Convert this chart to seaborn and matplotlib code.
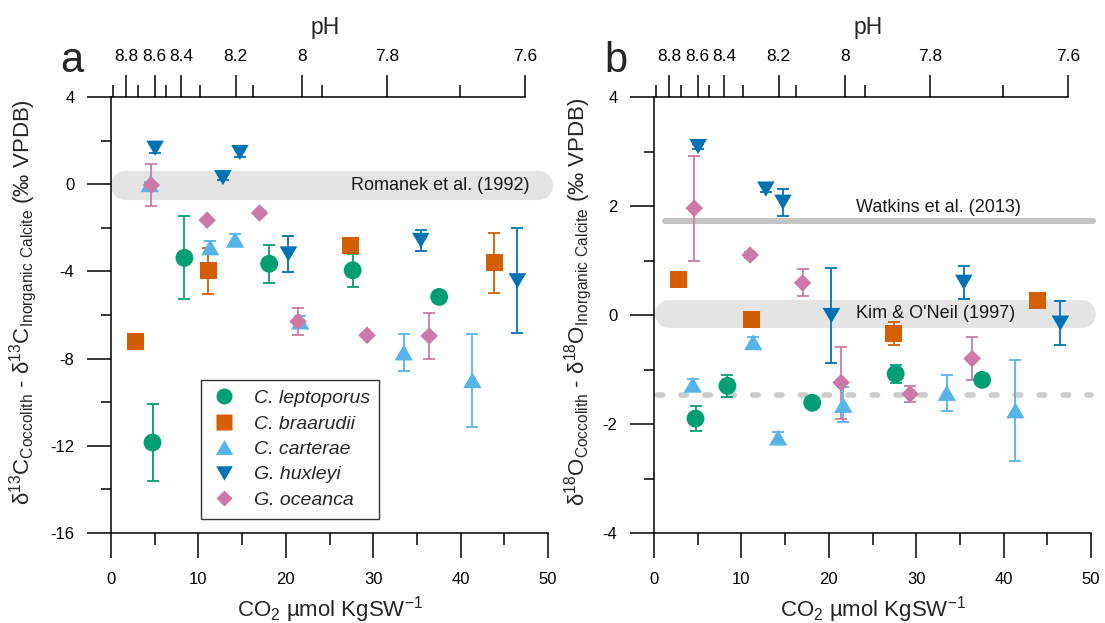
import numpy as np
import pandas as pd
import matplotlib
matplotlib.use("Agg")
import matplotlib.pyplot as plt
from matplotlib.lines import Line2D
from matplotlib.ticker import FixedLocator, NullFormatter
import seaborn as sns

# ---------------------------------------------------------------- data
species = ["C. leptoporus", "C. braarudii", "C. carterae", "G. huxleyi", "G. oceanca"]

# CO2 (umol/kg seawater) of each culture
co2_leptoporus = [4.75, 8.4, 18.1, 27.65, 37.55]
co2_braarudii = [2.8, 11.1, 27.45, 43.85]
co2_carterae = [4.43, 11.35, 14.2, 21.65, 33.5, 41.35]
co2_huxleyi = [5.05, 12.8, 14.75, 20.3, 35.45, 46.5]
co2_oceanca = [4.6, 11.0, 17.0, 21.4, 29.3, 36.4]

# carbon isotope offsets (permil VPDB) and their errors
d13c_leptoporus = [-11.85, -3.38, -3.65, -3.95, -5.17]
d13c_leptoporus_err = [1.75, 1.9, 0.88, 0.77, 0.1]
d13c_braarudii = [-7.2, -3.98, -2.8, -3.6]
d13c_braarudii_err = [0.35, 1.05, 0.2, 1.38]
d13c_carterae = [0.0, -2.9, -2.55, -6.3, -7.72, -8.99]
d13c_carterae_err = [0.1, 0.3, 0.28, 0.25, 0.84, 2.14]
d13c_huxleyi = [1.65, 0.3, 1.45, -3.2, -2.58, -4.43]
d13c_huxleyi_err = [0.2, 0.1, 0.2, 0.84, 0.48, 2.4]
d13c_oceanca = [-0.04, -1.65, -1.32, -6.3, -6.93, -6.96]
d13c_oceanca_err = [0.96, 0.1, 0.1, 0.64, 0.1, 1.07]

# oxygen isotope offsets (permil VPDB) and their errors
d18o_leptoporus = [-1.9, -1.3, -1.61, -1.08, -1.19]
d18o_leptoporus_err = [0.23, 0.2, 0.05, 0.17, 0.05]
d18o_braarudii = [0.65, -0.08, -0.34, 0.27]
d18o_braarudii_err = [0.05, 0.05, 0.21, 0.05]
d18o_carterae = [-1.28, -0.5, -2.25, -1.65, -1.43, -1.75]
d18o_carterae_err = [0.1, 0.1, 0.1, 0.32, 0.33, 0.92]
d18o_huxleyi = [3.09, 2.31, 2.07, -0.01, 0.6, -0.15]
d18o_huxleyi_err = [0.05, 0.05, 0.25, 0.87, 0.3, 0.4]
d18o_oceanca = [1.96, 1.1, 0.59, -1.24, -1.45, -0.8]
d18o_oceanca_err = [0.96, 0.05, 0.25, 0.66, 0.14, 0.4]

# pH scale on the top axis, placed at the equivalent CO2
ph_labels = ["8.8", "8.6", "8.4", "8.2", "8", "7.8", "7.6"]
ph_co2 = [1.75, 5.0, 8.0, 14.25, 21.85, 31.6, 47.35]
ph_minor_co2 = [0.25, 3.1, 6.3, 10.2, 16.25, 24.15, 39.9]

# inorganic calcite references
romanek_d13c = -0.05
kim_oneil_d18o = 0.02
watkins_d18o = 1.72
dashed_d18o = -1.47

# ---------------------------------------------------------------- style
colors = {"C. leptoporus": "#009E73", "C. braarudii": "#D55E00",
          "C. carterae": "#56B4E9", "G. huxleyi": "#0072B2",
          "G. oceanca": "#CC79A7"}
tri_up = [(-1, -0.866), (1, -0.866), (0, 0.866)]
tri_dn = [(-1, 0.866), (1, 0.866), (0, -0.866)]
markers = {"C. leptoporus": "o", "C. braarudii": "s", "C. carterae": tri_up,
           "G. huxleyi": tri_dn, "G. oceanca": "D"}
sizes = {"C. leptoporus": 165, "C. braarudii": 150, "C. carterae": 175,
         "G. huxleyi": 160, "G. oceanca": 80}
legend_ms = {"C. leptoporus": 11.5, "C. braarudii": 11.5, "C. carterae": 12.5,
             "G. huxleyi": 12, "G. oceanca": 8.2}

sns.set_style("ticks")
plt.rcParams["font.family"] = ["Liberation Sans", "DejaVu Sans"]
plt.rcParams["mathtext.default"] = "regular"
plt.rcParams["axes.unicode_minus"] = False

co2 = [co2_leptoporus, co2_braarudii, co2_carterae, co2_huxleyi, co2_oceanca]
d13c = [d13c_leptoporus, d13c_braarudii, d13c_carterae, d13c_huxleyi, d13c_oceanca]
d13c_err = [d13c_leptoporus_err, d13c_braarudii_err, d13c_carterae_err,
            d13c_huxleyi_err, d13c_oceanca_err]
d18o = [d18o_leptoporus, d18o_braarudii, d18o_carterae, d18o_huxleyi, d18o_oceanca]
d18o_err = [d18o_leptoporus_err, d18o_braarudii_err, d18o_carterae_err,
            d18o_huxleyi_err, d18o_oceanca_err]


def frame(values, errors):
    rows = []
    for sp, xs, ys, es in zip(species, co2, values, errors):
        for x, y, e in zip(xs, ys, es):
            rows.append({"species": sp, "co2": x, "offset": y, "err": e})
    return pd.DataFrame(rows)


df13 = frame(d13c, d13c_err)
df18 = frame(d18o, d18o_err)

fig = plt.figure(figsize=(11.05, 6.23), dpi=100)
axa = fig.add_axes([111 / 1105, 90 / 623, 437 / 1105, 436 / 623])
axb = fig.add_axes([654 / 1105, 90 / 623, 437 / 1105, 436 / 623])

line_w = 1.1
tick_kw = dict(direction="out", width=line_w, color="black", labelcolor="black")

YLABELS = {
    "c": "δ$^{13}$C$_{Coccolith}$ - δ$^{13}$C$_{Inorganic\\ Calcite}$ (‰ VPDB)",
    "o": "δ$^{18}$O$_{Coccolith}$ - δ$^{18}$O$_{Inorganic\\ Calcite}$ (‰ VPDB)",
}


def draw_panel(ax, df, ylim, major, minor, ylabel, ylabel_x):
    for sp in species:
        sub = df[df["species"] == sp]
        ax.errorbar(sub["co2"], sub["offset"], yerr=sub["err"], fmt="none",
                    ecolor=colors[sp], elinewidth=1.3, capsize=4.3,
                    capthick=1.3, zorder=3)
    sns.scatterplot(data=df, x="co2", y="offset", hue="species", style="species",
                    size="species", palette=colors, markers=markers, sizes=sizes,
                    linewidth=0, legend=False, ax=ax, zorder=4)
    ax.set_xlim(0, 50)
    ax.set_ylim(*ylim)
    for s in ("top", "right"):
        ax.spines[s].set_visible(False)
    for s in ("left", "bottom"):
        ax.spines[s].set_linewidth(line_w)
        ax.spines[s].set_color("black")
    ax.set_xticks(np.arange(0, 51, 10))
    ax.xaxis.set_minor_locator(FixedLocator(np.arange(5, 50, 10)))
    ax.set_yticks(major)
    ax.yaxis.set_minor_locator(FixedLocator(minor))
    ax.tick_params(axis="x", which="major", length=18, pad=10, labelsize=12, **tick_kw)
    ax.tick_params(axis="x", which="minor", length=8.6, **tick_kw)
    ax.tick_params(axis="y", which="major", length=17.3, pad=9, labelsize=12, **tick_kw)
    ax.tick_params(axis="y", which="minor", length=7.2, **tick_kw)
    ax.set_xlabel("CO$_2$ µmol KgSW$^{-1}$", fontsize=16)
    ax.xaxis.set_label_coords(0.5, -0.14)
    ax.set_ylabel(YLABELS[ylabel], fontsize=16)
    ax.yaxis.set_label_coords(ylabel_x, 0.53)
    ax.grid(False)

    top = ax.twiny()
    top.set_xlim(0, 50)
    for s in ("left", "right", "bottom"):
        top.spines[s].set_visible(False)
    top.spines["top"].set_linewidth(line_w)
    top.spines["top"].set_color("black")
    top.spines["top"].set_bounds(0, ph_co2[-1])
    top.set_xticks(ph_co2)
    top.set_xticklabels(ph_labels)
    top.xaxis.set_minor_locator(FixedLocator(ph_minor_co2))
    top.xaxis.set_minor_formatter(NullFormatter())
    top.tick_params(axis="x", which="major", length=16, pad=8, labelsize=12.5, **tick_kw)
    top.tick_params(axis="x", which="minor", length=8.4, **tick_kw)
    top.set_xlabel("pH", fontsize=16.5)
    top.xaxis.set_label_coords(0.49, 1.145)
    top.grid(False)
    return top


draw_panel(axa, df13, (-16, 4), [4, 0, -4, -8, -12, -16],
           [2, -2, -6, -10, -14], "c", -0.165)
draw_panel(axb, df18, (-4, 4), [4, 2, 0, -2, -4], [3, 1, -1, -3], "o", -0.137)

# reference bands and lines
band_color = "#e4e4e4"
axa.plot([1.65, 48.85], [romanek_d13c, romanek_d13c], color=band_color, lw=21,
         solid_capstyle="round", zorder=1, clip_on=False)
axa.text(47.9, romanek_d13c, "Romanek et al. (1992)", ha="right", va="center",
         fontsize=13, color="#1a1a1a", zorder=2)

axb.plot([1.7, 49.0], [kim_oneil_d18o, kim_oneil_d18o], color=band_color, lw=20,
         solid_capstyle="round", zorder=1, clip_on=False)
axb.text(23.1, kim_oneil_d18o, "Kim & O'Neil (1997)", ha="left", va="center",
         fontsize=13, color="#1a1a1a", zorder=2)
axb.plot([1.3, 50.2], [watkins_d18o, watkins_d18o], color="#c4c4c4", lw=4.3,
         solid_capstyle="round", zorder=1, clip_on=False)
axb.text(23.1, 1.98, "Watkins et al. (2013)", ha="left", va="center",
         fontsize=13, color="#1a1a1a", zorder=2)
axb.plot([0.4, 50.0], [dashed_d18o, dashed_d18o], color="#cccccc", lw=4.0,
         dashes=(1.0, 3.3), dash_capstyle="round", zorder=1, clip_on=False)

# legend
handles = [Line2D([], [], ls="none", marker=markers[sp], ms=legend_ms[sp],
                  mfc=colors[sp], mec="none", label=sp) for sp in species]
leg = axa.legend(handles=handles, loc="upper left", bbox_to_anchor=(0.206, 0.351),
                 borderaxespad=0, frameon=True, fancybox=False, edgecolor="black",
                 prop={"style": "italic", "size": 14}, handlelength=1.4,
                 handletextpad=0.8, labelspacing=0.4, borderpad=0.5)
leg.get_frame().set_linewidth(1.0)

# panel letters
fig.text(60 / 1105, 1 - 72 / 623, "a", fontsize=30, va="baseline", ha="left")
fig.text(604 / 1105, 1 - 72 / 623, "b", fontsize=30, va="baseline", ha="left")

fig.savefig("out.png", dpi=100)
